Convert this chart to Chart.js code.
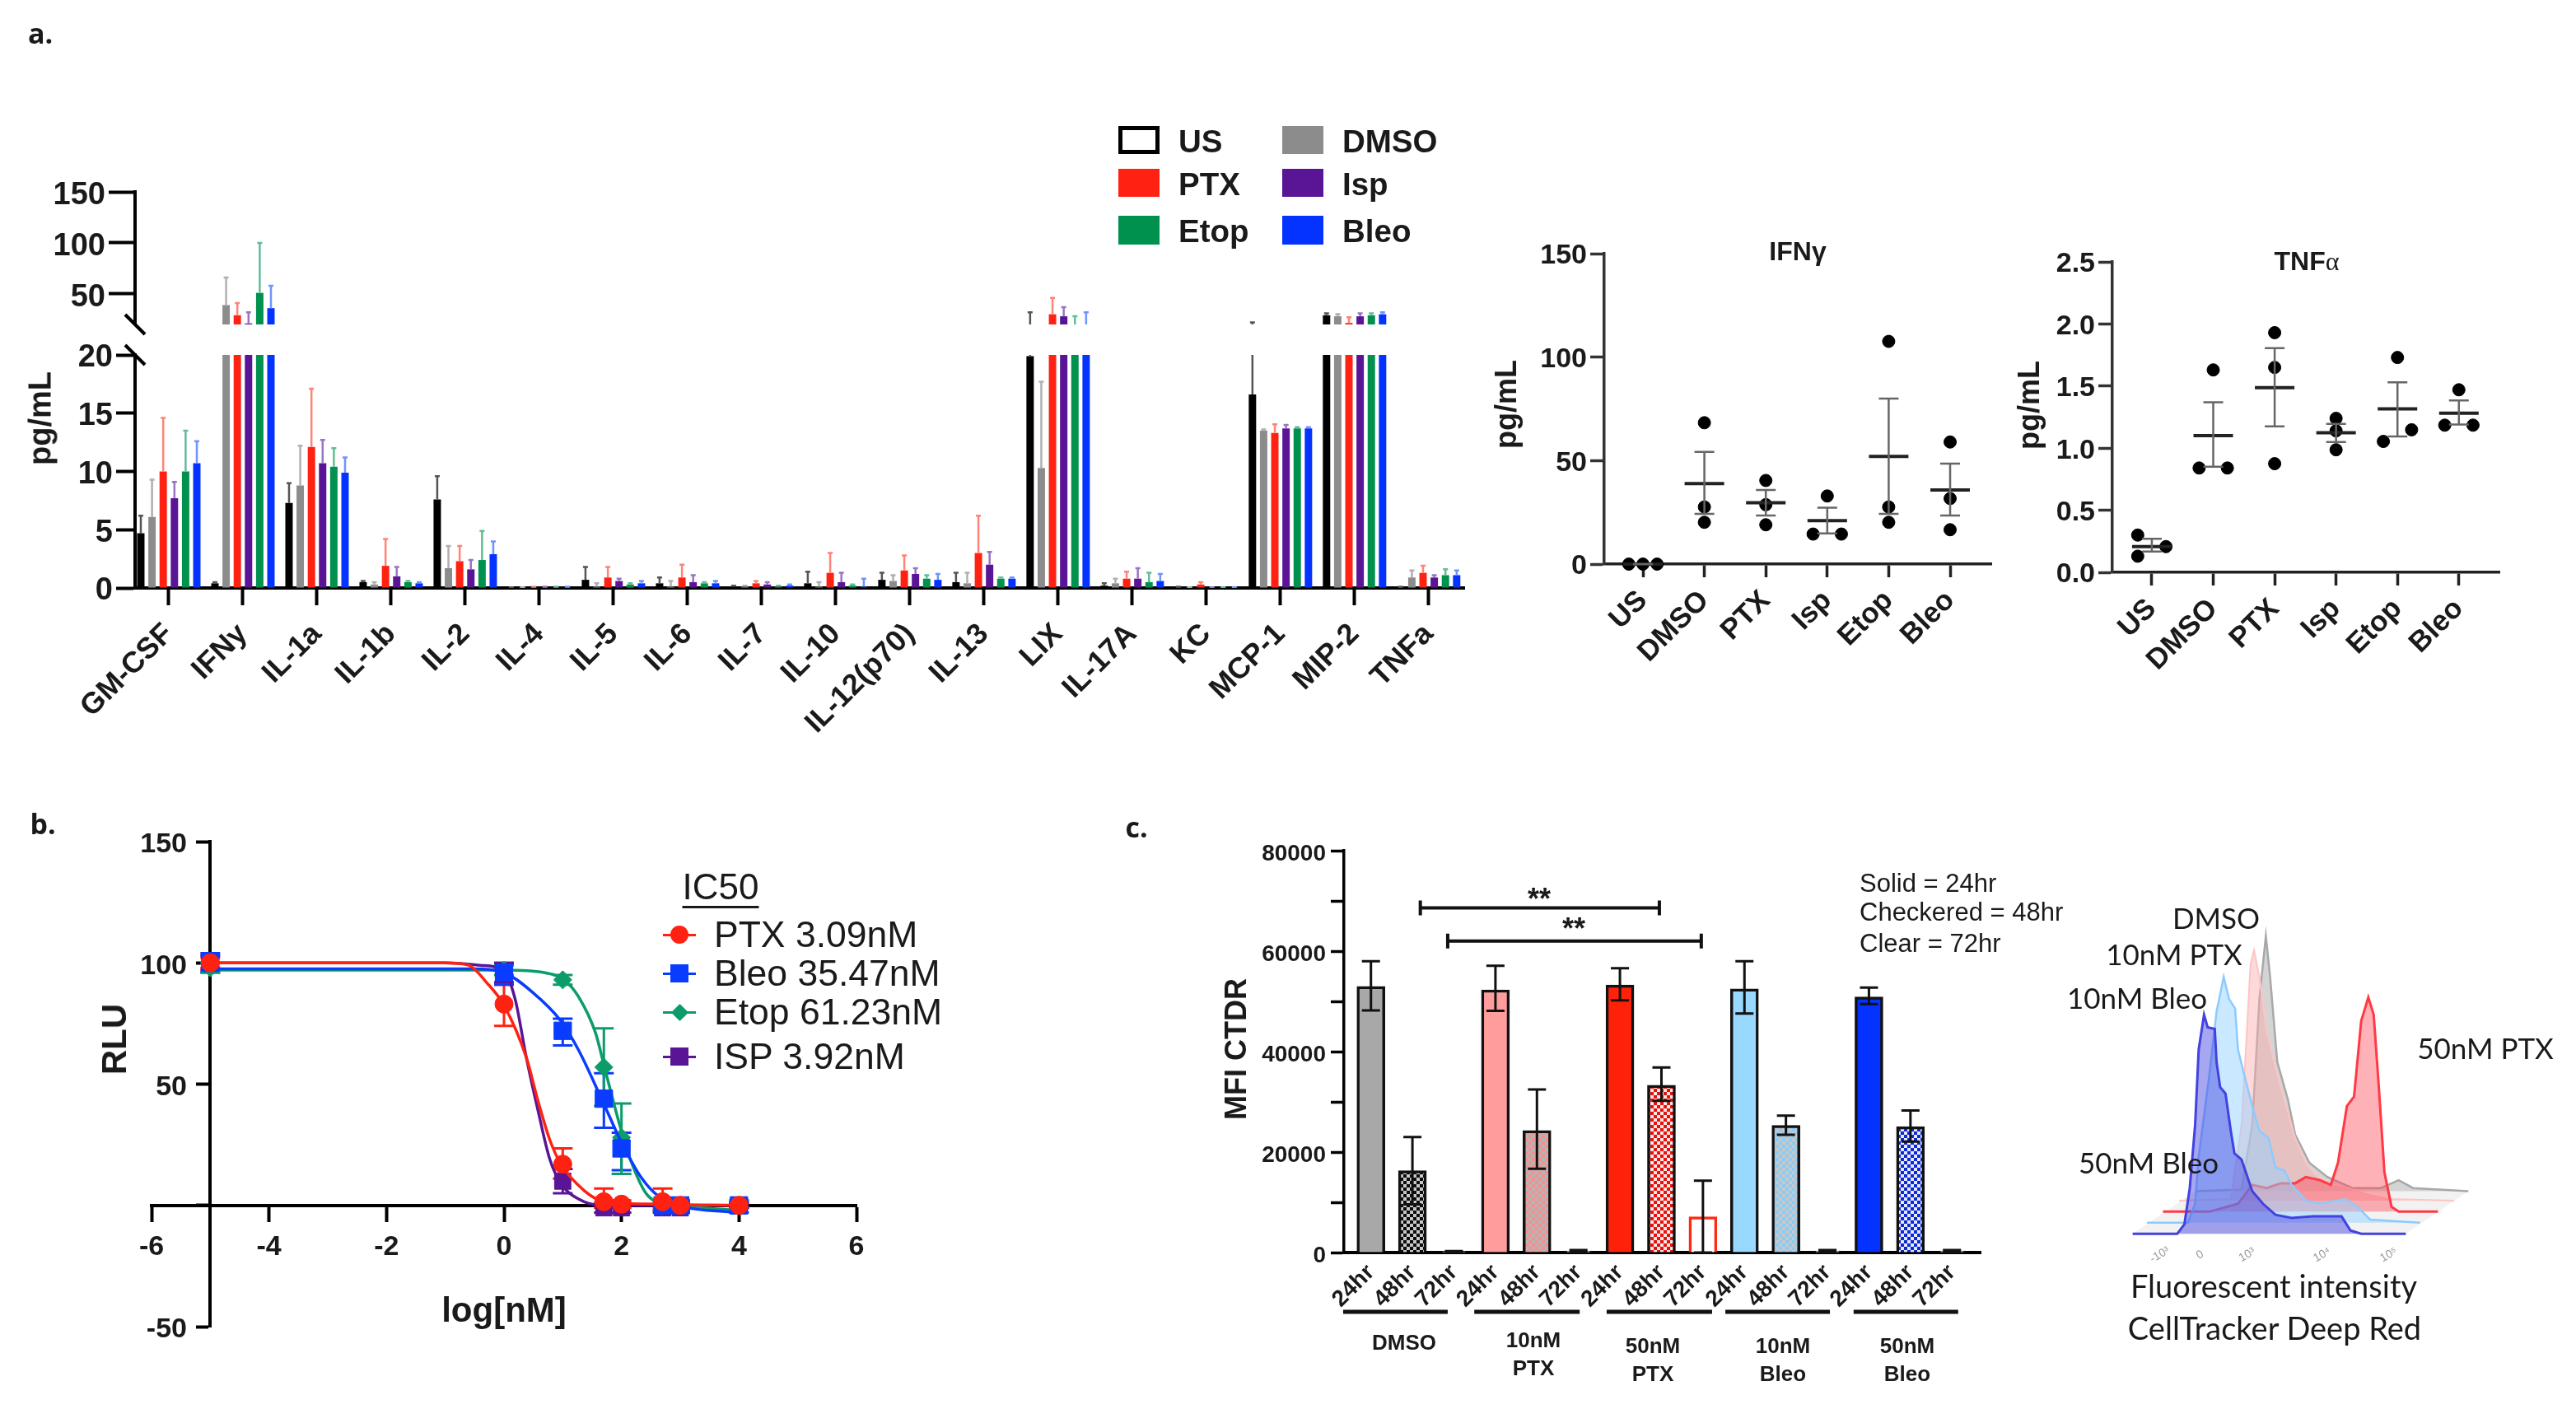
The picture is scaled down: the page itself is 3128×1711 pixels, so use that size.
<!DOCTYPE html>
<html lang="en">
<head>
<meta charset="UTF-8">
<title>Figure</title>
<script src="https://cdn.jsdelivr.net/npm/chart.js"></script>
<style>
  html, body { margin: 0; padding: 0; background: #fff; }
  #page { position: relative; width: 3128px; height: 1711px; overflow: hidden; filter: blur(0.6px); }
  canvas { position: absolute; }
  .txt { position: absolute; white-space: nowrap; color: #1a1a1a; font-family: "Liberation Sans", sans-serif; transform: translate(-50%, -50%); }
  .box { position: absolute; box-sizing: border-box; }
</style>
</head>
<body>
<div id="page"></div>
<script>
// panel a: cytokine bars, means and top of the error bar
const cytokines = ['GM-CSF','IFNy','IL-1a','IL-1b','IL-2','IL-4','IL-5','IL-6','IL-7','IL-10','IL-12(p70)','IL-13','LIX','IL-17A','KC','MCP-1','MIP-2','TNFa'];
const usBars     = [4.7,0.4,7.3,0.5,7.6,0.05,0.7,0.4,0.1,0.4,0.7,0.5,19.9,0.2,0.05,16.6,29,0.1];
const usTops     = [6.2,0.5,9,0.6,9.6,0.05,1.8,0.9,0.2,1.4,1.3,1.3,32,0.4,0.1,22,31,0.1];
const dmsoBars   = [6.1,39,8.8,0.3,1.7,0.05,0.1,0.1,0.1,0.1,0.6,0.4,10.3,0.4,0.05,13.5,28,0.9];
const dmsoTops   = [9.3,66,12.2,0.5,3.6,0.05,0.4,0.6,0.2,0.5,1.1,1.3,17.7,0.8,0.05,13.6,30,1.5];
const ptxBars    = [10,29,12.1,1.9,2.3,0.05,0.9,0.9,0.4,1.3,1.5,3,30,0.8,0.3,13.3,21.5,1.3];
const ptxTops    = [14.6,41,17.1,4.2,3.6,0.1,1.8,2,0.6,3,2.8,6.2,46,1.4,0.5,14.05,27,1.9];
const ispBars    = [7.7,21,10.7,1,1.6,0.05,0.6,0.5,0.3,0.5,1.2,2,28,0.8,0.05,13.7,28,0.9];
const ispTops    = [9.1,32,12.7,1.8,2.4,0.1,0.8,1.1,0.5,1.3,1.7,3.1,37,1.7,0.05,14,31,1.1];
const etopBars   = [10,51,10.4,0.5,2.4,0.05,0.3,0.4,0.1,0.2,0.8,0.8,20,0.5,0.05,13.7,29,1.1];
const etopTops   = [13.5,100,12,0.6,4.9,0.1,0.4,0.5,0.2,0.3,1.1,0.9,28,1.3,0.05,13.8,31,1.6];
const bleoBars   = [10.7,36,9.9,0.4,2.9,0.05,0.4,0.4,0.2,0.1,0.7,0.8,20,0.6,0.05,13.7,30,1.1];
const bleoTops   = [12.6,58,11.2,0.5,4,0.1,0.6,0.6,0.3,0.8,1.2,0.9,32,1.2,0.05,13.8,32,1.5];
const barNames   = ['US','DMSO','PTX','Isp','Etop','Bleo'];
const barColors  = ['#000000','#8c8c8c','#ff2212','#5a1496','#00914f','#0433ff'];
const errColors  = ['#555555','#b0b0b0','#ff8378','#9a74c4','#62bd97','#6f93ff'];
const lowerTicks = [0,5,10,15,20];
const upperTicks = [50,100,150];

// IFNg and TNFa dot plots
const doseLabels = ['US','DMSO','PTX','Isp','Etop','Bleo'];
const ifnDotX  = [-0.23,0,0.23, 0,0,0, 0,0,0, 0,-0.23,0.23, 0,0,0, 0,0,0];
const ifnDotY  = [0,0,0, 68.3,27.6,20.2, 40.4,28.7,19, 32.9,14.5,14.5, 107.6,27.6,20.2, 59,31.7,16.6];
const ifnMean  = [0,38.9,29.6,21,52,35.8];
const ifnHi    = [0,54.2,35.8,27.3,80,48.5];
const ifnLo    = [0,24.3,23.5,14.8,24.3,23.5];
const ifnTicks = [0,50,100,150];
const tnfDotX  = [-0.23,0.23,-0.23, 0,-0.23,0.23, 0,0,0, 0,0,0, 0,0.23,-0.23, 0,-0.23,0.23];
const tnfDotY  = [0.3,0.207,0.13, 1.63,0.84,0.84, 1.93,1.65,0.875, 1.24,1.14,0.987, 1.73,1.148,1.054, 1.47,1.185,1.185];
const tnfMean  = [0.207,1.1,1.487,1.124,1.317,1.282];
const tnfHi    = [0.27,1.37,1.806,1.196,1.53,1.384];
const tnfLo    = [0.167,0.85,1.175,1.05,1.094,1.19];
const tnfTicks = [0,0.5,1,1.5,2,2.5];

// panel b: dose response
const doses    = [-5,0,1,1.7,2,2.7,3,4];
const ptxRlu   = [100,83,17,1.5,0.5,1.5,0,0];
const ptxHi    = [102,91,23.5,7,2,7,1.5,1];
const ptxLo    = [98,74,11,-1,-1,-1,-1,-1];
const bleoRlu  = [100,96,72,44,23.5,0,0,0];
const bleoHi   = [104,100,77,54.5,30,2,2,2];
const bleoLo   = [96,91,66,32,14.5,-2,-2,-3];
const etopRlu  = [98,97,93,57,28,0,0,0];
const etopHi   = [100,99,95,73,42,2,1,1];
const etopLo   = [96,95,91,41,13,-2,-1,-1];
const ispRlu   = [100,96,10,-1,-1,-1,-1,0];
const ispHi    = [103,100,15,1,1,1,1,1];
const ispLo    = [97,92,5,-3,-3,-3,-3,-1];
// fit curves
const ptxCurveX  = [-5,-1,-0.6,-0.3,0,0.38,0.58,0.78,0.97,1.37,1.66,2.6,4];
const ptxCurveY  = [100,100,99,92,82.5,61,43,27,17,6,2,0.5,0];
const bleoCurveX = [-5,-0.5,0,0.48,0.97,1.27,1.66,2,2.35,2.65,3,4];
const bleoCurveY = [97.5,97.5,96,88,76,64,44,26,11,3.4,-0.3,-3];
const etopCurveX = [-5,0,0.68,1.02,1.27,1.56,1.71,1.96,2.15,2.45,2.84,4];
const etopCurveY = [97,97,96,93,86,71,57,34,19,4,0.5,-2];
const ispCurveX  = [-5,-1,-0.4,0,0.19,0.38,0.58,0.78,0.97,1.27,1.66,4];
const ispCurveY  = [100,100,99,96.5,85,61,39,19,9,2.6,0,0];
const doseTicksX = [-6,-4,-2,0,2,4,6];
const rluTicks   = [-50,0,50,100,150];
const icLabels   = ['PTX 3.09nM','Bleo 35.47nM','Etop 61.23nM','ISP 3.92nM'];
const icColors   = ['#ff2212','#0a3cff','#0c9c69','#5a1496'];

// panel c: CellTracker MFI
const hours     = ['24hr','48hr','72hr','24hr','48hr','72hr','24hr','48hr','72hr','24hr','48hr','72hr','24hr','48hr','72hr'];
const mfiMean   = [52970,16300,200,52300,24300,300,53250,33300,7100,52500,25300,300,50900,25050,300];
const mfiHi     = [58000,23000,300,57100,32450,500,56600,36850,14300,58000,27250,500,52750,28280,500];
const mfiLo     = [48200,9600,100,48100,16700,100,50200,30200,0,47600,23450,100,49450,22100,100];
const mfiTicks  = [0,10000,20000,30000,40000,50000,60000,70000,80000];
const groupNames = [['DMSO'],['10nM','PTX'],['50nM','PTX'],['10nM','Bleo'],['50nM','Bleo']];
const groupSpans = [[-0.67,1.85],[2.49,5.03],[5.68,8.22],[8.54,11.06],[11.63,14.15]];
const sigSpans   = [[1.19,6.95,68600],[1.85,7.96,62000]];

// flow histograms, intensity and count above each trace's own floor
const bleo50I = [0,125,145,160,175,185,200,210,230,235,245,260,275,285,305,335,365,400,445,505,585,610,640,765];
const bleo50C = [0,0,30,145,345,585,695,655,650,545,465,445,325,255,235,135,95,60,50,55,55,10,0,0];
const bleo10I = [0,115,135,145,175,195,215,230,247,255,270,295,315,340,360,385,405,445,485,555,590,625,765];
const bleo10C = [0,0,60,210,470,670,780,710,680,550,480,370,290,270,175,165,120,70,60,75,50,10,0];
const ptx50I  = [0,130,210,250,290,330,370,400,440,470,490,515,535,555,575,590,605,620,640,660,770];
const ptx50C  = [0,0,25,85,75,90,90,110,100,85,155,335,365,605,680,625,385,125,15,0,0];
const ptx10I  = [0,145,175,190,200,210,225,245,275,305,325,355,385,425,475,525,585,770];
const ptx10C  = [0,5,240,540,750,795,710,540,400,280,200,120,80,55,40,20,5,0];
const dmsoI   = [0,130,160,180,198,210,230,260,280,320,370,440,520,570,610,765];
const dmsoC   = [0,5,210,610,810,680,410,290,180,90,45,10,10,35,10,0];
const floorStart = [345,385,430,475,520];
const floorLevel = [1145,1110,1075,1040,1010];
const flowTicks  = ['-10³','0','10³','10⁴','10⁵'];
const flowTickX  = [2622,2671,2728,2819,2900];

const FONT = '"Liberation Sans", sans-serif';
const page = document.getElementById('page');

function addText(html, cx, cy, font, rotate) {
  const d = document.createElement('div');
  d.className = 'txt';
  d.innerHTML = html;
  d.style.left = cx + 'px';
  d.style.top = cy + 'px';
  d.style.font = font + ' ' + FONT;
  if (rotate) d.style.transform = 'translate(-50%,-50%) rotate(' + rotate + 'deg)';
  page.appendChild(d);
  return d;
}

// canvas on the page at box, plot area fixed to area (page coordinates)
function makeChart(box, area, config) {
  const c = document.createElement('canvas');
  c.width = box.w; c.height = box.h;
  c.style.left = box.x + 'px';
  c.style.top = box.y + 'px';
  c.dataset.fitLeft = area.l - box.x;
  c.dataset.fitBottom = box.y + box.h - area.b;
  page.appendChild(c);
  const sc = config.options.scales;
  // tick labels get clipped to the axis box, so left/bottom axes must own that space
  const boxedY = sc.y.display !== false && typeof sc.y.position !== 'object';
  const boxedX = sc.x.display !== false && typeof sc.x.position !== 'object';
  config.options = Object.assign({
    responsive: false, animation: false, devicePixelRatio: 1,
    layout: { padding: { left: boxedY ? 0 : area.l - box.x, top: area.t - box.y, right: box.x + box.w - area.r, bottom: boxedX ? 0 : box.y + box.h - area.b } },
    plugins: {}
  }, config.options);
  config.options.plugins.legend = { display: false };
  config.options.plugins.tooltip = { enabled: false };
  return new Chart(c, config);
}

function fitBox(s) {
  const floating = typeof s.options.position === 'object';
  if (s.isHorizontal()) s.height = floating ? 0 : +s.chart.canvas.dataset.fitBottom;
  else s.width = floating ? 0 : +s.chart.canvas.dataset.fitLeft;
  s.paddingLeft = s.paddingRight = s.paddingTop = s.paddingBottom = 0;
}

function yAxis(min, max, ticks, o) {
  return {
    min: min, max: max, afterFit: fitBox,
    afterBuildTicks: s => { s.ticks = ticks.map(v => ({ value: v })); },
    // the reference prints its tick numbers a little below the tick mark
    afterUpdate: s => {
      if (s.dropDone) return;
      s.dropDone = true;
      const draw = s.drawLabels;
      s.drawLabels = function (area) {
        s.ctx.save(); s.ctx.translate(0, o.drop); draw.call(s, area); s.ctx.restore();
      };
    },
    border: { display: true, color: o.color, width: o.line },
    grid: { drawOnChartArea: false, drawTicks: true, tickLength: o.tick, tickWidth: o.line, tickColor: o.color },
    ticks: { autoSkip: false, padding: o.pad, color: '#1a1a1a', font: { family: FONT, size: o.size, weight: 'bold' }, callback: o.label || (v => String(v)) }
  };
}

function xLabelAxis(min, max, labels, o) {
  return {
    type: 'linear', min: min, max: max, offset: false, afterFit: fitBox,
    afterBuildTicks: s => { s.ticks = labels.map((_, i) => ({ value: i })); },
    border: { display: true, color: o.color, width: o.line },
    grid: { offset: false, drawOnChartArea: false, drawTicks: o.tick > 0, tickLength: o.tick, tickWidth: o.line, tickColor: o.color },
    ticks: { autoSkip: false, minRotation: 45, maxRotation: 45, padding: o.pad, color: '#1a1a1a', font: { family: FONT, size: o.size, weight: 'bold' }, callback: v => labels[v] }
  };
}

function paintErrors(chart) {
  const ctx = chart.ctx, a = chart.chartArea, ys = chart.scales.y;
  chart.data.datasets.forEach((ds, d) => {
    if (!ds.errHi) return;
    ctx.save();
    if (ds.errClip) { ctx.beginPath(); ctx.rect(a.left, a.top, a.right - a.left, a.bottom - a.top); ctx.clip(); }
    ctx.strokeStyle = ds.errColor;
    ctx.lineWidth = ds.errWidth;
    chart.getDatasetMeta(d).data.forEach((el, i) => {
      const hi = ys.getPixelForValue(ds.errHi[i]);
      const lo = ds.errLo ? ys.getPixelForValue(ds.errLo[i]) : el.y;
      ctx.beginPath();
      ctx.moveTo(el.x, lo); ctx.lineTo(el.x, hi);
      ctx.moveTo(el.x - ds.errCap, hi); ctx.lineTo(el.x + ds.errCap, hi);
      if (ds.errLo) { ctx.moveTo(el.x - ds.errCap, lo); ctx.lineTo(el.x + ds.errCap, lo); }
      ctx.stroke();
    });
    ctx.restore();
  });
}
const errorsOver  = { id: 'errorsOver',  afterDatasetsDraw: paintErrors };
const errorsUnder = { id: 'errorsUnder', beforeDatasetsDraw: paintErrors };

// panel a, broken y axis drawn as two charts
const allBars = [usBars, dmsoBars, ptxBars, ispBars, etopBars, bleoBars];
const allTops = [usTops, dmsoTops, ptxTops, ispTops, etopTops, bleoTops];
function cytokineSets() {
  return allBars.map((vals, s) => ({
    label: barNames[s],
    data: vals.map((v, i) => ({ x: i, y: v })),
    backgroundColor: barColors[s],
    barPercentage: 0.66, categoryPercentage: 0.907,
    errHi: allTops[s], errColor: errColors[s], errWidth: 2.5, errCap: 3, errClip: true
  }));
}
function slash(edge) {
  return { id: 'slash' + edge, afterDraw(chart) {
    const ctx = chart.ctx, a = chart.chartArea;
    const px = a.left, py = edge === 'top' ? a.top : a.bottom;
    ctx.save(); ctx.strokeStyle = '#000'; ctx.lineWidth = 4;
    ctx.beginPath(); ctx.moveTo(px - 12, py - 12); ctx.lineTo(px + 12, py + 12); ctx.stroke();
    ctx.restore();
  } };
}
const catMin = -0.4556, catMax = 17.48;
makeChart({ x: 20, y: 200, w: 1800, h: 220 }, { l: 164, t: 233, r: 1778, b: 394 }, {
  type: 'bar',
  data: { datasets: cytokineSets() },
  options: { scales: {
    x: { type: 'linear', display: false, min: catMin, max: catMax, offset: false },
    y: yAxis(20, 150, upperTicks, { color: '#000', line: 4, tick: 32, pad: 4, size: 38, drop: 5 })
  } },
  plugins: [errorsOver, slash('bottom')]
});
makeChart({ x: 20, y: 400, w: 1800, h: 520 }, { l: 164, t: 431, r: 1778, b: 714 }, {
  type: 'bar',
  data: { datasets: cytokineSets() },
  options: { scales: {
    x: xLabelAxis(catMin, catMax, cytokines, { color: '#000', line: 4, tick: 21, pad: 14, size: 36 }),
    y: yAxis(0, 20, lowerTicks, { color: '#000', line: 4, tick: 23, pad: 4, size: 38, drop: 4 })
  } },
  plugins: [errorsOver, slash('top')]
});
addText('pg/mL', 49, 508, 'bold 38px', -90);

// legend of panel a
const legendX = [1358, 1557], legendY = [153, 205, 262], legendH = [34, 34, 35];
barNames.forEach((name, i) => {
  const col = i % 2, row = Math.floor(i / 2);
  const b = document.createElement('div');
  b.className = 'box';
  b.style.cssText += 'left:' + legendX[col] + 'px;top:' + legendY[row] + 'px;width:50px;height:' + legendH[row] + 'px;background:' + (i === 0 ? '#fff' : barColors[i]) + ';' + (i === 0 ? 'border:5px solid #000;' : '');
  page.appendChild(b);
  const t = addText(name, 0, legendY[row] + 19, 'bold 38.5px');
  t.style.left = (legendX[col] + 73) + 'px';
  t.style.transform = 'translate(0,-50%)';
});

// dot plots
function dotChart(box, area, xmin, xmax, ymax, ticks, dotX, dotY, mean, hi, lo, lab) {
  return makeChart(box, area, {
    type: 'scatter',
    data: { datasets: [
      { data: mean.map((v, i) => ({ x: i, y: v })), pointStyle: 'line', pointRadius: 24, borderColor: '#222', pointBorderWidth: 4,
        errHi: hi, errLo: lo, errColor: '#666', errWidth: 2.5, errCap: 12, clip: false },
      { data: dotX.map((v, i) => ({ x: Math.floor(i / 3) + v, y: dotY[i] })), pointRadius: 7.5, backgroundColor: '#000', borderColor: '#000', clip: false }
    ] },
    options: { scales: {
      x: xLabelAxis(xmin, xmax, doseLabels, { color: '#222', line: 3.5, tick: 16, pad: 8, size: 35 }),
      y: yAxis(0, ymax, ticks, { color: '#333', line: 3.5, tick: 17, pad: 4, size: 34, label: lab, drop: 3 })
    } },
    plugins: [errorsOver]
  });
}
dotChart({ x: 1850, y: 280, w: 620, h: 620 }, { l: 1948, t: 306, r: 2418, b: 685 }, -0.63, 5.67, 150, ifnTicks, ifnDotX, ifnDotY, ifnMean, ifnHi, ifnLo);
dotChart({ x: 2470, y: 290, w: 620, h: 620 }, { l: 2565, t: 315, r: 3035, b: 695 }, -0.643, 5.66, 2.5, tnfTicks, tnfDotX, tnfDotY, tnfMean, tnfHi, tnfLo, v => v.toFixed(1));
addText('IFN<span style="font:bold 26px ' + FONT + ';position:relative;top:5px">γ</span>', 2183, 305, 'bold 32px');
addText('TNF<span style="font:32px \'Liberation Serif\',serif">α</span>', 2801, 317, 'bold 32px');
addText('pg/mL', 1829, 491, 'bold 36px', -90);
addText('pg/mL', 2464, 492, 'bold 36px', -90);

// panel b
function curve(xs, ys, color) {
  return { data: xs.map((v, i) => ({ x: v, y: ys[i] })), showLine: true, pointRadius: 0, borderColor: color, borderWidth: 3.5, cubicInterpolationMode: 'monotone', clip: false };
}
function markers(ys, hi, lo, color, style, r) {
  return { data: doses.map((v, i) => ({ x: v, y: ys[i] })), pointStyle: style, pointRadius: r, backgroundColor: color, borderColor: color,
    errHi: hi, errLo: lo, errColor: color, errWidth: 3, errCap: 12, clip: false };
}
makeChart({ x: 100, y: 1000, w: 1000, h: 640 }, { l: 184, t: 1022, r: 1040, b: 1611 }, {
  type: 'scatter',
  data: { datasets: [
    markers(ptxRlu, ptxHi, ptxLo, icColors[0], 'circle', 11),
    curve(ptxCurveX, ptxCurveY, icColors[0]),
    markers(bleoRlu, bleoHi, bleoLo, icColors[1], 'rect', 15),
    curve(bleoCurveX, bleoCurveY, icColors[1]),
    markers(etopRlu, etopHi, etopLo, icColors[2], 'rectRot', 11),
    curve(etopCurveX, etopCurveY, icColors[2]),
    markers(ispRlu, ispHi, ispLo, icColors[3], 'rect', 14),
    curve(ispCurveX, ispCurveY, icColors[3])
  ] },
  options: { scales: {
    x: {
      min: -6, max: 6, position: { y: 0 }, afterFit: fitBox,
      afterBuildTicks: s => { s.ticks = doseTicksX.map(v => ({ value: v })); },
      border: { display: true, color: '#000', width: 4 },
      grid: { drawOnChartArea: false, tickLength: 18, tickWidth: 4, tickColor: '#000' },
      ticks: { padding: 12, color: '#1a1a1a', font: { family: FONT, size: 34, weight: 'bold' }, callback: v => String(v) }
    },
    y: Object.assign(yAxis(-50, 150, rluTicks, { color: '#000', line: 4, tick: 15, pad: 4, size: 34, drop: 4, label: v => v === 0 ? '' : v + '\u00a0\u00a0\u00a0' }), { position: { x: -5 } })
  } },
  plugins: [errorsUnder]
});
addText('RLU', 139, 1262, 'bold 42px', -90);
addText('log[nM]', 612, 1591, 'bold 42px');
const icHead = addText('IC50', 875, 1077, '44px');
icHead.style.textDecoration = 'underline';
icHead.style.textDecorationThickness = '3px';
icHead.style.textUnderlineOffset = '8px';
const icRows = [1135, 1182, 1229, 1283];
icLabels.forEach((name, i) => {
  const t = addText(name, 0, icRows[i], '44.5px');
  t.style.left = '867px';
  t.style.transform = 'translate(0,-50%)';
  const ln = document.createElement('div');
  ln.className = 'box';
  ln.style.cssText += 'left:805px;top:' + (icRows[i] - 1.5) + 'px;width:40px;height:3px;background:' + icColors[i];
  page.appendChild(ln);
  const m = document.createElement('div');
  m.className = 'box';
  const sz = i === 2 ? 15 : 22;
  m.style.cssText += 'left:' + (825 - sz / 2) + 'px;top:' + (icRows[i] - sz / 2) + 'px;width:' + sz + 'px;height:' + sz + 'px;background:' + icColors[i] + ';' +
    (i === 0 ? 'border-radius:50%;' : i === 2 ? 'transform:rotate(45deg);' : '');
  page.appendChild(m);
});

// panel c
function checker(fg, bg) {
  const c = document.createElement('canvas');
  c.width = 8; c.height = 8;
  const x = c.getContext('2d');
  x.fillStyle = bg; x.fillRect(0, 0, 8, 8);
  x.fillStyle = fg; x.fillRect(0, 0, 4, 4); x.fillRect(4, 4, 4, 4);
  return x.createPattern(c, 'repeat');
}
const mfiFill = ['#a8a8a8', checker('#0c0c0c', '#c8c8c8'), '#ffffff',
  '#ff9c9c', checker('#f59090', '#b5b5b5'), '#ffffff',
  '#ff2208', checker('#e8100a', '#f8e8e8'), '#ffffff',
  '#99d8ff', checker('#8ccbf5', '#c8c8c8'), '#ffffff',
  '#0433ff', checker('#0a2ad8', '#e8e8f8'), '#ffffff'];
const mfiBorder = hours.map((h, i) => i === 8 ? '#ff2a12' : '#111');
const mfiPlugin = { id: 'mfiLines', afterDatasetsDraw(chart) {
  const ctx = chart.ctx, xs = chart.scales.x, ys = chart.scales.y;
  ctx.save(); ctx.strokeStyle = '#111'; ctx.lineWidth = 4;
  sigSpans.forEach(s => {
    const a = xs.getPixelForValue(s[0]), b = xs.getPixelForValue(s[1]), y = ys.getPixelForValue(s[2]);
    ctx.beginPath();
    ctx.moveTo(a, y); ctx.lineTo(b, y);
    ctx.moveTo(a, y - 9); ctx.lineTo(a, y + 9);
    ctx.moveTo(b, y - 9); ctx.lineTo(b, y + 9);
    ctx.stroke();
  });
  ctx.lineWidth = 5;
  groupSpans.forEach(s => {
    const y = ys.getPixelForValue(0) + 72;
    ctx.beginPath(); ctx.moveTo(xs.getPixelForValue(s[0]), y); ctx.lineTo(xs.getPixelForValue(s[1]), y); ctx.stroke();
  });
  ctx.restore();
} };
makeChart({ x: 1520, y: 1010, w: 920, h: 640 }, { l: 1632, t: 1033, r: 2405, b: 1521 }, {
  type: 'bar',
  data: { datasets: [{
    data: mfiMean.map((v, i) => ({ x: i, y: v })),
    backgroundColor: mfiFill, borderColor: mfiBorder, borderWidth: 3.5, barThickness: 34,
    errHi: mfiHi, errLo: mfiLo, errColor: '#111', errWidth: 3, errCap: 11
  }] },
  options: { scales: {
    x: xLabelAxis(-0.649, 14.69, hours, { color: '#000', line: 4, tick: 0, pad: 8, size: 28 }),
    y: yAxis(0, 80000, mfiTicks, { color: '#000', line: 3.5, tick: 16, pad: 6, size: 28, drop: 4, label: v => v % 20000 ? '' : String(v) })
  } },
  plugins: [errorsOver, mfiPlugin]
});
addText('MFI CTDR', 1501, 1274, 'bold 36px', -90);
addText('**', 1869, 1092, 'bold 36px');
addText('**', 1911, 1128, 'bold 36px');
const groupCx = [1705, 1862, 2007, 2165, 2316];
const groupCy = [[1630], [1627, 1661], [1634, 1668], [1634, 1668], [1634, 1668]];
groupNames.forEach((lines, g) => lines.forEach((t, k) => addText(t, groupCx[g], groupCy[g][k], 'bold 26px')));
[['Solid = 24hr', 1073], ['Checkered = 48hr', 1108], ['Clear = 72hr', 1146]].forEach(r => {
  const t = addText(r[0], 0, r[1], '31px');
  t.style.left = '2258px';
  t.style.transform = 'translate(0,-50%)';
});

// flow histograms
function ridge(i, ints, counts, fill, line, w) {
  return {
    data: ints.map((v, k) => ({ x: floorStart[i] + v, y: floorLevel[i] - counts[k] })),
    showLine: true, pointRadius: 0, borderColor: line, borderWidth: w, backgroundColor: fill, fill: { value: floorLevel[i] }
  };
}
// faint sheared floor behind the traces, front edge to back edge
const floorSpan = 765;
function floorPlane() {
  const f = floorStart, l = floorLevel, n = f.length - 1;
  const corners = [[f[0], l[0]], [f[n], l[n]], [f[n] + floorSpan, l[n]], [f[0] + floorSpan, l[0]], [f[0], l[0]]];
  return { data: corners.map(c => ({ x: c[0], y: c[1] })), showLine: true, pointRadius: 0, borderWidth: 0, backgroundColor: 'rgba(190,190,190,0.2)', fill: 'shape' };
}
makeChart({ x: 2440, y: 1060, w: 680, h: 600 }, { l: 2440, t: 1060, r: 3120, b: 1660 }, {
  type: 'scatter',
  data: { datasets: [
    ridge(0, bleo50I, bleo50C, 'rgba(60,60,225,0.46)', '#4242e0', 3),
    ridge(1, bleo10I, bleo10C, 'rgba(150,210,255,0.5)', '#8ccbff', 2.5),
    ridge(2, ptx50I, ptx50C, 'rgba(255,70,85,0.42)', '#ff3a44', 3),
    ridge(3, ptx10I, ptx10C, 'rgba(250,170,170,0.45)', '#ffc4c4', 2),
    ridge(4, dmsoI, dmsoC, 'rgba(160,160,160,0.45)', '#a8a8a8', 2.5),
    floorPlane()
  ] },
  options: { scales: {
    x: { display: false, min: 0, max: 1568 },
    y: { display: false, min: 0, max: 1568, reverse: true }
  } }
});
flowTicks.forEach((t, i) => {
  const d = addText(t, flowTickX[i], 1523, '14px', -30);
  d.style.color = '#9a9a9a';
});
addText('DMSO', 2691, 1114, '35px Lato,');
addText('10nM PTX', 2640, 1158, '35px Lato,');
addText('10nM Bleo', 2595, 1211, '35px Lato,');
addText('50nM PTX', 3018, 1272, '35px Lato,');
addText('50nM Bleo', 2609, 1411, '35px Lato,');
addText('Fluorescent intensity', 2761, 1561, '38px Lato,');
addText('CellTracker Deep Red', 2762, 1612, '38px Lato,');

// panel letters
addText('a.', 49, 40, 'bold 34px "Open Sans",');
addText('b.', 52, 1000, 'bold 34px "Open Sans",');
addText('c.', 1380, 1004, 'bold 34px "Open Sans",');
</script>
</body>
</html>
